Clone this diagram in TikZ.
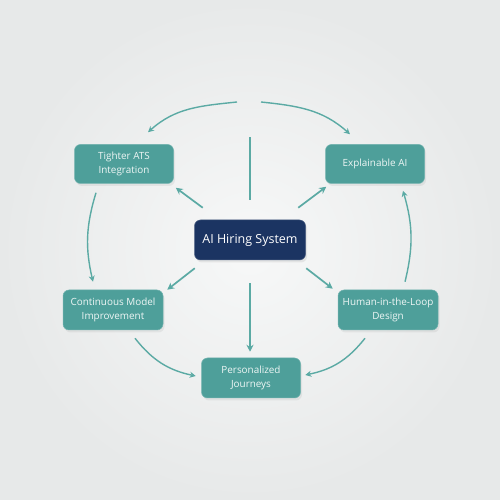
\documentclass[tikz,border=0pt]{standalone}
\usepackage{fontspec}
\setmainfont{Open Sans}
\usetikzlibrary{arrows.meta,shadows}
\definecolor{bgin}{HTML}{F7F8F8}
\definecolor{bgout}{HTML}{E7E9E9}
\definecolor{teal}{HTML}{4E9F9A}
\definecolor{arr}{HTML}{5BAAA4}
\definecolor{navy}{HTML}{1B3462}
\definecolor{txt}{HTML}{EEF6F5}
\tikzset{
  box/.style={draw=teal!80!white, line width=0.5pt, fill=teal, rounded corners=6pt, text=txt,
    align=center, font=\fontsize{9.9}{14.5}\selectfont, inner sep=0pt,
    minimum width=99pt, minimum height=39pt,
    drop shadow={opacity=0.12, shadow xshift=1.5pt, shadow yshift=-2.5pt}},
  hub/.style={fill=navy, draw=navy!80!white, line width=0.5pt, rounded corners=6pt, text=white,
    font=\fontsize{12.5}{15}\selectfont, inner sep=0pt, minimum width=111pt, minimum height=40pt,
    drop shadow={opacity=0.15, shadow xshift=1.5pt, shadow yshift=-2.5pt}},
  spoke/.style={draw=arr, line width=1.7pt, -{Stealth[length=7pt,width=7pt]}},
  ring/.style={draw=arr, line width=1.4pt, -{Stealth[length=6pt,width=6pt]}},
}
\begin{document}
\begin{tikzpicture}[x=1pt,y=1pt]
\useasboundingbox (0,0) rectangle (500,500);
\shade[inner color=bgin, outer color=bgout] (0,0) rectangle (500,500);

\node[hub] (c) at (250,260) {AI Hiring System};
\node[box] (t) at (124,336) {Tighter ATS\\Integration};
\node[box] (e) at (375,336) {Explainable AI};
\node[box, minimum width=100pt, minimum height=40pt] (cm) at (113,190) {Continuous Model\\Improvement};
\node[box, minimum width=100pt, minimum height=40pt] (h) at (388,190) {Human-in-the-Loop\\Design};
\node[box, minimum height=40pt] (p) at (251,122) {Personalized\\Journeys};

\coordinate (topl) at (237,398);
\coordinate (topr) at (261,398);
\coordinate (topv) at (250,363);

% spokes
\draw[spoke] ([shift={(8.5,12)}]c.north west) -- ([shift={(2,-4)}]t.south east);
\draw[spoke] ([shift={(-7.5,12)}]c.north east) -- ([shift={(1,-3)}]e.south west);
\draw[spoke] ([shift={(0.5,-8)}]c.south west) -- ([shift={(4,0)}]cm.north east);
\draw[spoke] ([shift={(0.5,-8)}]c.south east) -- ([shift={(-5,1)}]h.north west);
\draw[spoke] ([shift={(0,-23)}]c.south) -- ([shift={(-1,6)}]p.north);
\draw[draw=arr, line width=1.7pt] ([shift={(0,20)}]c.north) -- (topv);

% ring
\draw[ring] (topl) to[out=186,in=42] ([shift={(24,12)}]t.north);
\draw[ring] (topr) to[out=-6,in=138] ([shift={(-25,10)}]e.north);
\draw[ring] ([shift={(17,8)}]h.north) to[bend right=15] ([shift={(28,-7)}]e.south);
\draw[ring] ([shift={(-28,-9)}]t.south) to[bend right=15] ([shift={(-20,8)}]cm.north);
\draw[ring] ([shift={(22,-8)}]cm.south) to[bend right=20] ([shift={(-5.5,2)}]p.west);
\draw[ring] ([shift={(-23,-8)}]h.south) to[bend left=20] ([shift={(4.5,3)}]p.east);
\end{tikzpicture}
\end{document}
